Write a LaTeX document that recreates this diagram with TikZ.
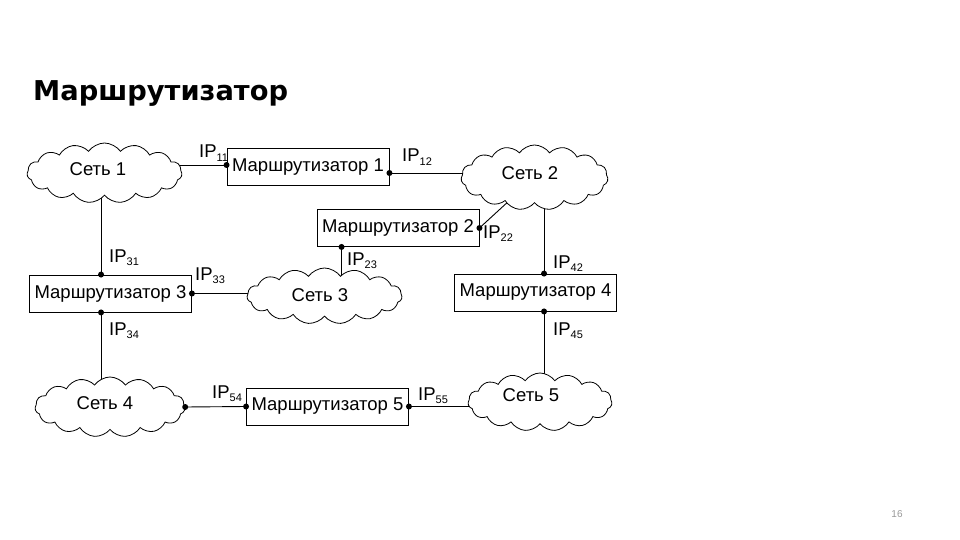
\documentclass[tikz,border=0pt]{standalone}
\usepackage{fontspec}
\setmainfont{Liberation Sans}
\newfontfamily\titlefont{DejaVu Sans}
\usetikzlibrary{shapes.symbols,calc,backgrounds}
\newcommand\iplab[1]{IP\raisebox{-0.4ex}{\fontsize{11}{11}\selectfont #1}}
\begin{document}
\begin{tikzpicture}[x=1pt,y=-1pt,
  router/.style={draw,line width=0.9pt,minimum width=162pt,minimum height=37pt,inner sep=0pt,font=\fontsize{18.5}{18.5}\selectfont},
  net/.style={cloud,draw,fill=white,line width=0.8pt,cloud puffs=15,cloud puff arc=110,cloud ignores aspect,inner sep=0pt},
  nettext/.style={inner sep=0pt,font=\fontsize{18.5}{18.5}\selectfont},
  iplabel/.style={anchor=base west,inner sep=0pt,font=\fontsize{18.5}{18.5}\selectfont},
  ipdot/.style={circle,fill,inner sep=0pt,minimum size=6pt},
  link/.style={line width=0.9pt}]
\useasboundingbox (0,0) rectangle (960,540);

% title and page number
\node[anchor=base west,inner sep=0pt,font=\titlefont\bfseries\fontsize{27.3}{27.3}\selectfont] (title) at (33,101) {Маршрутизатор};
\node[font=\fontsize{10}{10}\selectfont,text=gray!80] (pg) at (897,514) {16};

% routers
\node[router] (r1) at (308,167) {Маршрутизатор 1};
\node[router] (r2) at (398,228) {Маршрутизатор 2};
\node[router] (r3) at (110.5,293.5) {Маршрутизатор 3};
\node[router] (r4) at (535.5,292.5) {Маршрутизатор 4};
\node[router] (r5) at (327.5,406.5) {Маршрутизатор 5};

% clouds
\node[net,minimum width=155pt,minimum height=60pt] (c1) at (104.5,173) {};
\node[net,minimum width=147pt,minimum height=65pt] (c2) at (534.5,177.5) {};
\node[net,minimum width=155pt,minimum height=56pt] (c3) at (324.5,296) {};
\node[net,minimum width=150pt,minimum height=60pt] (c4) at (110,407) {};
\node[net,minimum width=144pt,minimum height=58pt] (c5) at (540,402) {};
\node[nettext] (t1) at (98,169) {Сеть 1};
\node[nettext] (t2) at (530,173) {Сеть 2};
\node[nettext] (t3) at (320,295) {Сеть 3};
\node[nettext] (t4) at (105,403) {Сеть 4};
\node[nettext] (t5) at (531,395) {Сеть 5};

% interface points
\coordinate (p11) at ($(r1.west)+(0,-2)$);
\coordinate (p12) at ($(r1.east)+(0,6)$);
\coordinate (p22) at (r2.east);
\coordinate (p23) at ($(r2.south west)+(25,0)$);
\coordinate (p31) at ($(r3.north west)+(72,0)$);
\coordinate (p33) at (r3.east);
\coordinate (p34) at ($(r3.south west)+(72,0)$);
\coordinate (p42) at ($(r4.north west)+(90,0)$);
\coordinate (p45) at ($(r4.south west)+(90,0)$);
\coordinate (p54) at (r5.west);
\coordinate (p55) at (r5.east);
\coordinate (p4) at (c4.east);

% links (behind the clouds)
\begin{scope}[on background layer]
\fill[white] (0,0) rectangle (960,540);
\draw[link] (p11) -- (p11 -| c1.center);
\draw[link] (p12) -- (p12 -| c2.center);
\draw[link] (p22) -- (c2.center);
\draw[link] (p23) -- (p23 |- c3.center);
\draw[link] (p31) -- (p31 |- c1.center);
\draw[link] (p33) -- (p33 -| c3.center);
\draw[link] (p34) -- (p34 |- c4.center);
\draw[link] (p42) -- (p42 |- c2.center);
\draw[link] (p45) -- (p45 |- c5.center);
\draw[link] (p4) -- (p54);
\draw[link] (p55) -- (p55 -| c5.center);
\end{scope}

% dots
\foreach \p in {p11,p12,p22,p23,p31,p33,p34,p42,p45,p54,p55,p4}
  \node[ipdot] at (\p) {};

% IP labels
\node[iplabel] (l11) at (199,158) {\iplab{11}};
\node[iplabel] (l12) at (402,162) {\iplab{12}};
\node[iplabel] (l22) at (483,238) {\iplab{22}};
\node[iplabel] (l23) at (347,265) {\iplab{23}};
\node[iplabel] (l31) at (109,262) {\iplab{31}};
\node[iplabel] (l33) at (195,280) {\iplab{33}};
\node[iplabel] (l34) at (109,335) {\iplab{34}};
\node[iplabel] (l42) at (553,268) {\iplab{42}};
\node[iplabel] (l45) at (553,335) {\iplab{45}};
\node[iplabel] (l54) at (212,398) {\iplab{54}};
\node[iplabel] (l55) at (418,400) {\iplab{55}};
\end{tikzpicture}
\end{document}
